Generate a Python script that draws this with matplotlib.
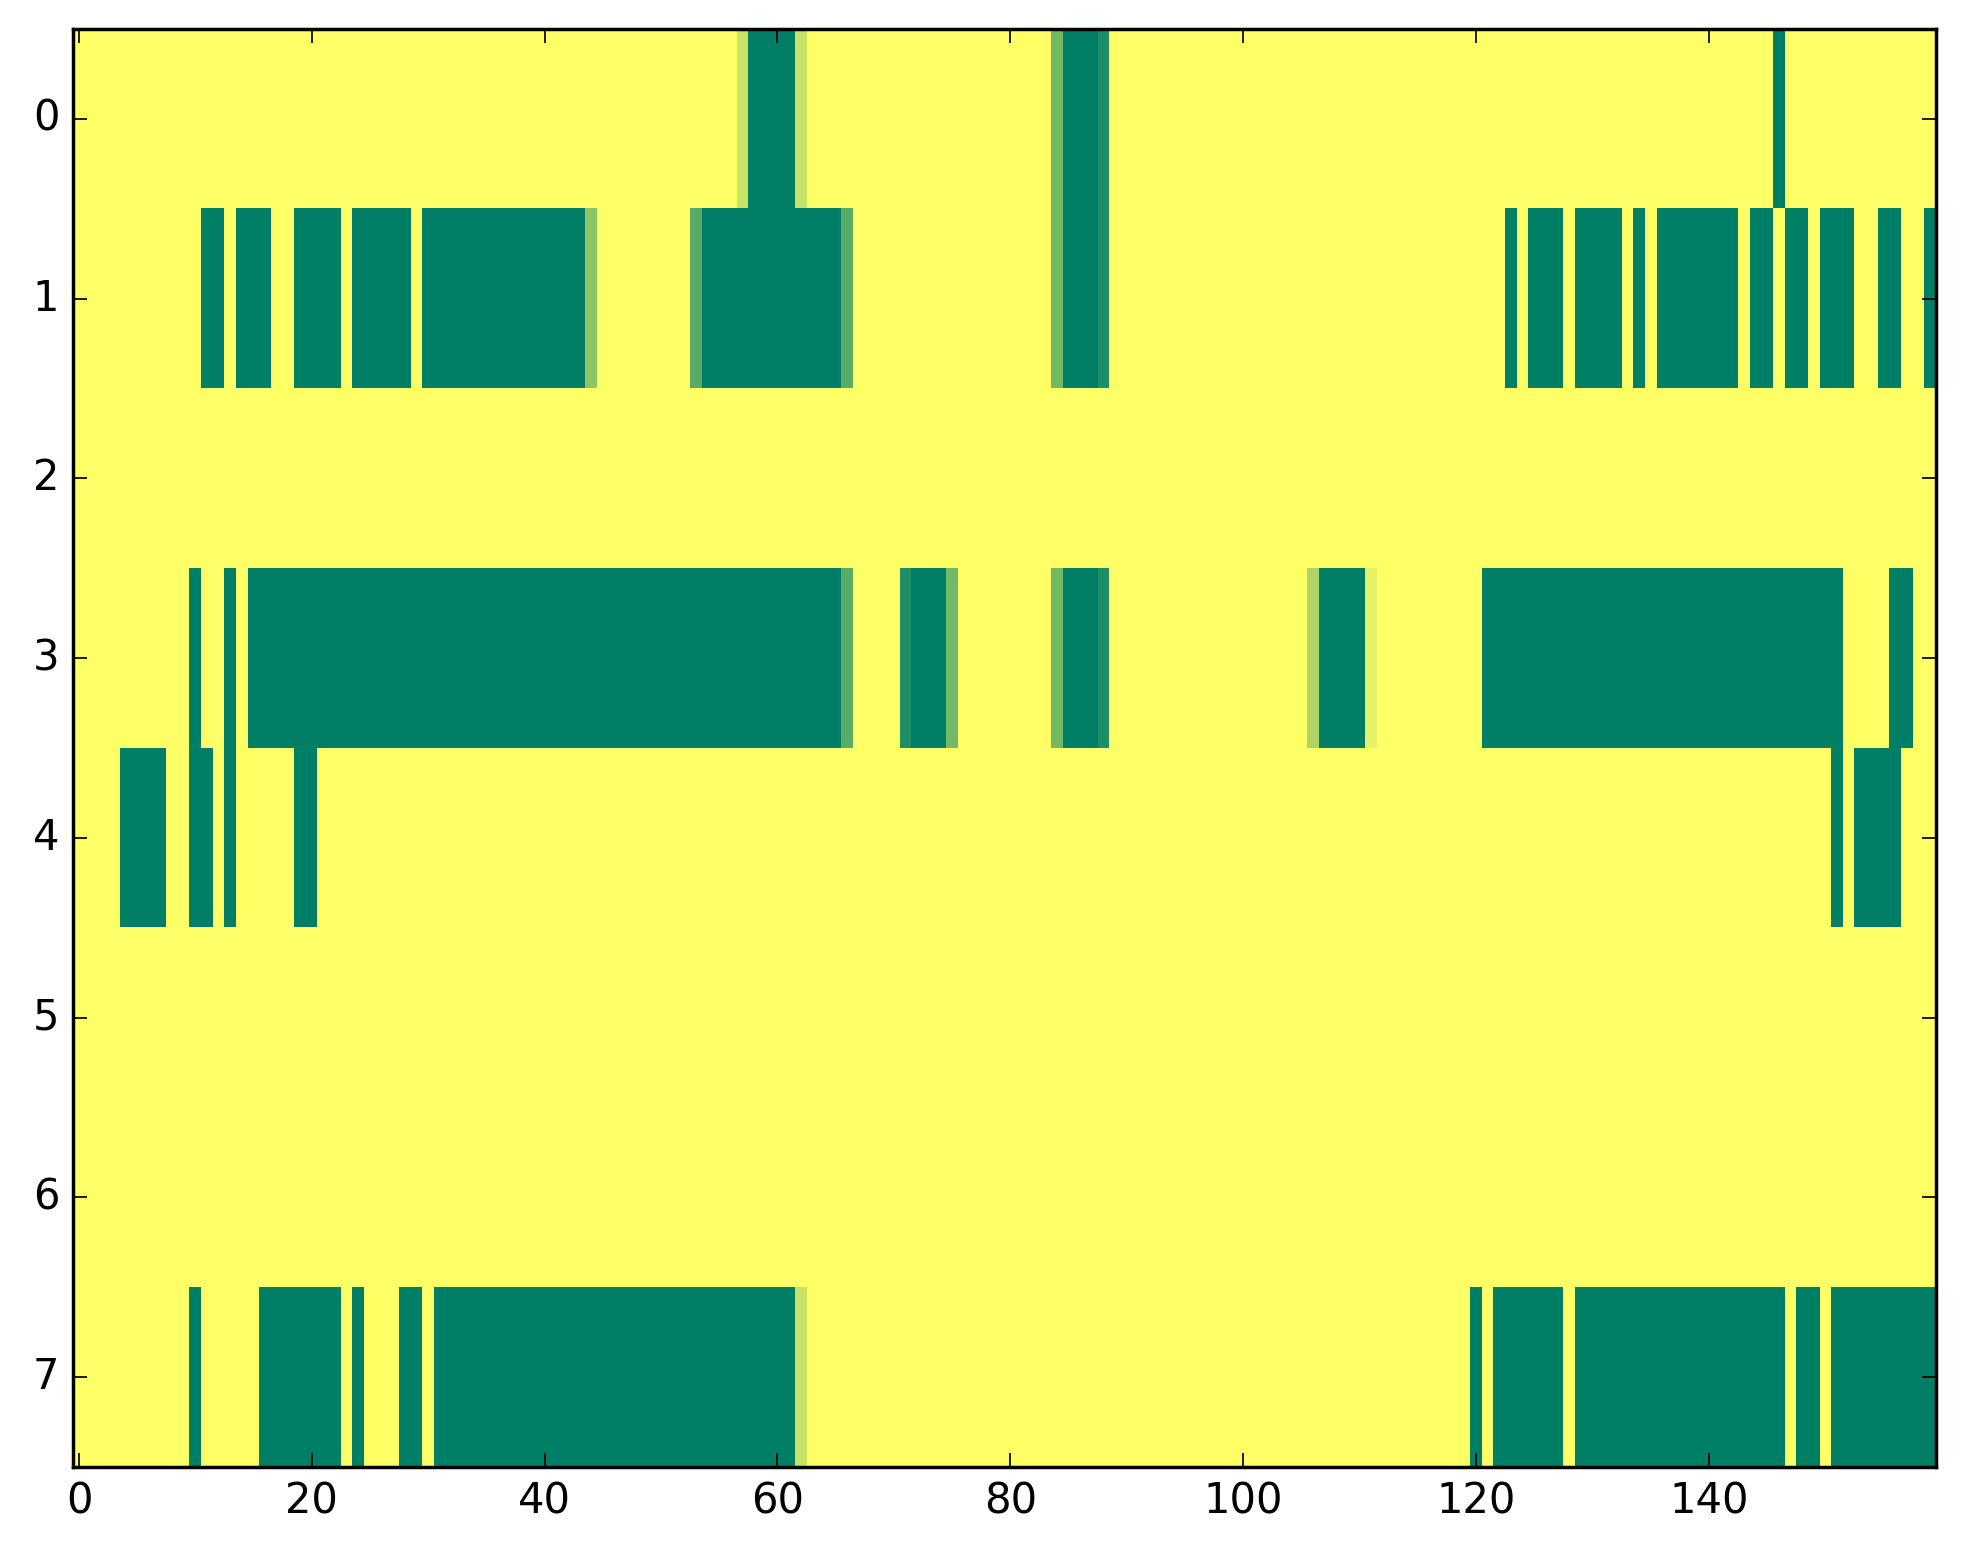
import numpy as np
import matplotlib
matplotlib.use("Agg")
import matplotlib.pyplot as plt

# ---- data: each row is yellow (1.0) except the runs listed as (first_col, last_col, value)
N_ROWS = 8
N_COLS = 160

row0_runs = [(57, 57, 0.78), (58, 61, 0.0), (62, 62, 0.78), (84, 84, 0.45),
             (85, 87, 0.0), (88, 88, 0.12), (146, 146, 0.0)]
row1_runs = [(11, 12, 0.0), (14, 16, 0.0), (19, 22, 0.0), (24, 28, 0.0),
             (30, 43, 0.0), (44, 44, 0.55), (53, 53, 0.35), (54, 65, 0.0),
             (66, 66, 0.35), (84, 84, 0.45), (85, 87, 0.0), (88, 88, 0.12),
             (123, 123, 0.0), (125, 127, 0.0), (129, 132, 0.0), (134, 134, 0.0),
             (136, 142, 0.0), (144, 145, 0.0), (147, 148, 0.0), (150, 152, 0.0),
             (155, 156, 0.0), (159, 159, 0.0)]
row2_runs = []
row3_runs = [(10, 10, 0.0), (13, 13, 0.0), (15, 65, 0.0), (66, 66, 0.35),
             (71, 71, 0.12), (72, 74, 0.0), (75, 75, 0.45), (84, 84, 0.45),
             (85, 87, 0.0), (88, 88, 0.12), (106, 106, 0.68), (107, 110, 0.0),
             (111, 111, 0.9), (121, 151, 0.0), (156, 157, 0.0)]
row4_runs = [(4, 7, 0.0), (10, 11, 0.0), (13, 13, 0.0), (19, 20, 0.0),
             (151, 151, 0.0), (153, 156, 0.0)]
row5_runs = []
row6_runs = []
row7_runs = [(10, 10, 0.0), (16, 22, 0.0), (24, 24, 0.0), (28, 29, 0.0),
             (31, 61, 0.0), (62, 62, 0.78), (120, 120, 0.0), (122, 127, 0.0),
             (129, 146, 0.0), (148, 149, 0.0), (151, 159, 0.0)]

all_runs = [row0_runs, row1_runs, row2_runs, row3_runs,
            row4_runs, row5_runs, row6_runs, row7_runs]

grid = np.ones((N_ROWS, N_COLS))
for r, runs in enumerate(all_runs):
    for first, last, val in runs:
        grid[r, first:last + 1] = val

plt.style.use("classic")
fig = plt.figure(figsize=(1963 / 250, 1564 / 250), dpi=250, facecolor="white")
ax = fig.add_axes([0.0373, 0.062, 0.9488, 0.9194])
ax.imshow(grid, cmap="summer", vmin=0, vmax=1, aspect="auto",
          interpolation="nearest")
ax.set_xticks(np.arange(0, 141, 20))
ax.set_yticks(np.arange(0, 8))
ax.tick_params(labelsize=12)
fig.savefig("out.png", dpi=250, facecolor="white")
